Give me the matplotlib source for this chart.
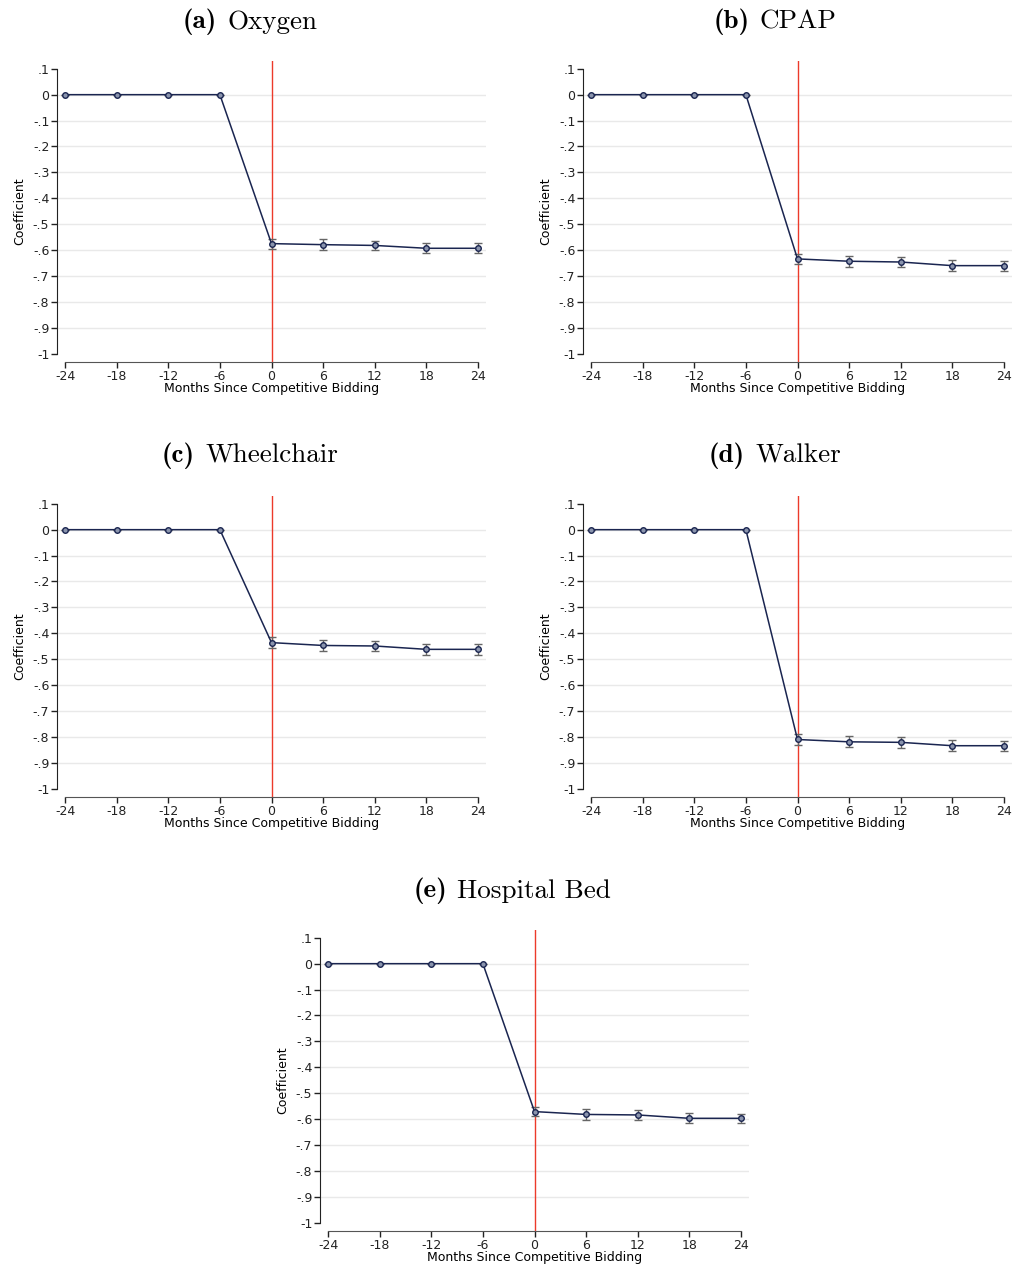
import matplotlib
matplotlib.use("Agg")
import matplotlib.pyplot as plt

# event-study coefficients
months = [-24, -18, -12, -6, 0, 6, 12, 18, 24]
month_labels = ["-24", "-18", "-12", "-6", "0", "6", "12", "18", "24"]
y_ticks = [0.1, 0.0, -0.1, -0.2, -0.3, -0.4, -0.5, -0.6, -0.7, -0.8, -0.9, -1.0]
y_labels = [".1", "0", "-.1", "-.2", "-.3", "-.4", "-.5", "-.6", "-.7", "-.8", "-.9", "-1"]

oxygen = [0, 0, 0, 0, -0.575, -0.579, -0.582, -0.593, -0.593]
oxygen_err = [0, 0, 0, 0, 0.019, 0.020, 0.019, 0.020, 0.019]
cpap = [0, 0, 0, 0, -0.634, -0.643, -0.646, -0.660, -0.660]
cpap_err = [0, 0, 0, 0, 0.019, 0.021, 0.019, 0.020, 0.019]
wheelchair = [0, 0, 0, 0, -0.436, -0.447, -0.449, -0.462, -0.462]
wheelchair_err = [0, 0, 0, 0, 0.020, 0.021, 0.020, 0.020, 0.020]
walker = [0, 0, 0, 0, -0.810, -0.819, -0.821, -0.834, -0.834]
walker_err = [0, 0, 0, 0, 0.020, 0.021, 0.020, 0.021, 0.020]
hospital_bed = [0, 0, 0, 0, -0.571, -0.582, -0.584, -0.597, -0.597]
hospital_bed_err = [0, 0, 0, 0, 0.018, 0.020, 0.018, 0.019, 0.018]

titles = ["(a)", "(b)", "(c)", "(d)", "(e)"]
names = ["Oxygen", "CPAP", "Wheelchair", "Walker", "Hospital Bed"]

W, H = 1015, 1268
NAVY = "#1a2550"
RED = "#ec3a2a"
GRID = "#e9e9e9"
TITLE_SIZE = 19.5

plt.rcParams["font.family"] = "DejaVu Sans"

# (axes left px, axes top px, title centre x, title centre y)
layout = [
    (57, 61, 250, 22),
    (583, 61, 775, 22),
    (57, 496, 250, 456),
    (583, 496, 775, 456),
    (320, 930, 512, 891),
]
AX_W, AX_H = 429, 301


def panel_title(fig, renderer, cx, cy, tag, name):
    # bold tag + roman name, centred as one block
    gap = 10
    t1 = fig.text(0, 1 - cy / H, tag, family="cmb10", fontsize=TITLE_SIZE,
                  va="center", ha="left")
    t2 = fig.text(0, 1 - cy / H, name, family="cmr10", fontsize=TITLE_SIZE,
                  va="center", ha="left")
    w1 = t1.get_window_extent(renderer).width
    w2 = t2.get_window_extent(renderer).width
    x0 = cx - (w1 + gap + w2) / 2
    t1.set_x(x0 / W)
    t2.set_x((x0 + w1 + gap) / W)


def draw_panel(fig, pos, coefs, errs):
    left, top = pos[0], pos[1]
    ax = fig.add_axes([left / W, 1 - (top + AX_H) / H, AX_W / W, AX_H / H])
    ax.set_xlim(-24.93, 24.93)
    ax.set_ylim(-1.032, 0.130)

    for yv in y_ticks[1:-1]:
        ax.axhline(yv, color=GRID, lw=1, zorder=0)
    ax.axvline(0, color=RED, lw=1, zorder=1)

    ax.errorbar(months, coefs, yerr=errs, fmt="none", ecolor="#666666",
                elinewidth=1, capsize=3, capthick=1, zorder=2)
    ax.plot(months, coefs, color=NAVY, lw=1.1, marker="o", ms=4,
            mfc="#8a94ad", mec=NAVY, mew=1, zorder=3)

    for s in ("top", "right"):
        ax.spines[s].set_visible(False)
    ax.spines["left"].set_bounds(-1, 0.1)
    ax.spines["bottom"].set_bounds(-24, 24)
    ax.spines["left"].set_color("#222222")
    ax.spines["bottom"].set_color("#555555")

    ax.set_xticks(months)
    ax.set_xticklabels(month_labels, fontsize=9)
    ax.set_yticks(y_ticks)
    ax.set_yticklabels(y_labels, fontsize=9)
    ax.tick_params(direction="out", length=4, width=1, colors="#222222", pad=1.5)

    ax.set_xlabel("Months Since Competitive Bidding", fontsize=9)
    ax.set_ylabel("Coefficient", fontsize=9)
    ax.yaxis.set_label_coords(-0.072, 0.5)
    ax.xaxis.set_label_coords(0.5, -0.068)
    return ax


fig = plt.figure(figsize=(W / 100, H / 100), dpi=100)
renderer = fig.canvas.get_renderer()
series = [(oxygen, oxygen_err), (cpap, cpap_err), (wheelchair, wheelchair_err),
          (walker, walker_err), (hospital_bed, hospital_bed_err)]
for pos, tag, name, (c, e) in zip(layout, titles, names, series):
    draw_panel(fig, pos, c, e)
    panel_title(fig, renderer, pos[2], pos[3], tag, name)

fig.savefig("out.png", dpi=100)
